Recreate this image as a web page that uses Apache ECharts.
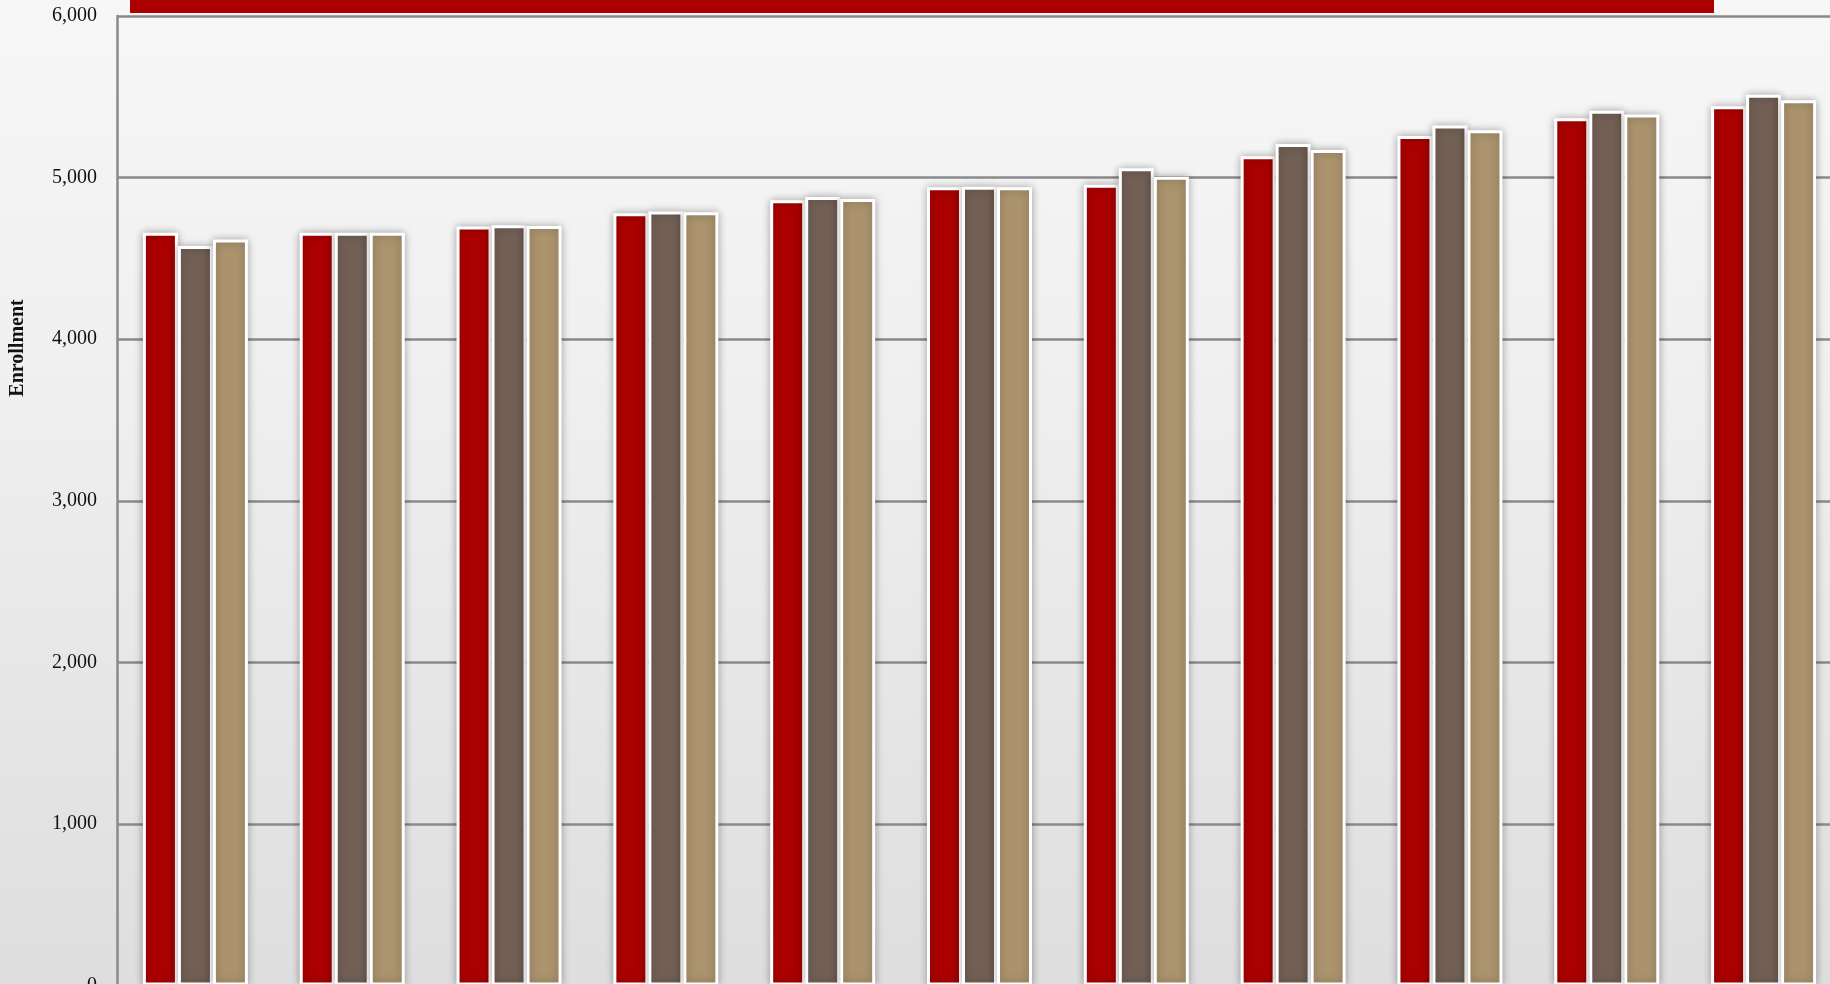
<!DOCTYPE html>
<html>
<head>
<meta charset="utf-8">
<script src="https://cdn.jsdelivr.net/npm/echarts@6/dist/echarts.min.js"></script>
<style>
  html, body { margin: 0; padding: 0; overflow: hidden; width: 1830px; height: 984px; }
  body { background: linear-gradient(to bottom, #f7f7f7 0%, #efefef 40%, #dedede 100%); }
  #chart { width: 1860px; height: 1060px; }
</style>
</head>
<body>
<div id="chart"></div>
<script>
const categories = ['2014', '2015', '2016', '2017', '2018', '2019', '2020', '2021', '2022', '2023', '2024'];
const seriesNames = ['Series 1', 'Series 2', 'Series 3'];
const series1 = [4658, 4658, 4698, 4780, 4860, 4940, 4955, 5132, 5258, 5368, 5442];
const series2 = [4576, 4658, 4705, 4790, 4880, 4944, 5058, 5208, 5323, 5414, 5512];
const series3 = [4617, 4658, 4700, 4786, 4868, 4940, 5006, 5171, 5293, 5391, 5478];
const yTicks = { min: 0, max: 6000, interval: 1000 };
const colors = ['#AA0000', '#726055', '#AB936E'];

const chart = echarts.init(document.getElementById('chart'), null, { renderer: 'canvas' });

const barStyle = (c) => ({
  color: c,
  borderColor: '#ffffff',
  borderWidth: 3,
  shadowBlur: 8,
  shadowColor: 'rgba(0,0,0,0.3)'
});

chart.setOption({
  backgroundColor: 'transparent',
  animation: false,
  grid: { left: 117, right: 18, top: 16, bottom: 74.4, containLabel: false },
  graphic: [
    { type: 'rect', left: 130, top: 0, shape: { width: 1584, height: 13 }, style: { fill: '#AA0000' }, z: 10 },
    { type: 'text', x: 18, y: 348, rotation: Math.PI / 2,
      style: { text: 'Enrollment', font: 'bold 20px "Liberation Serif", "Times New Roman", serif', fill: '#111', align: 'center', verticalAlign: 'middle' } }
  ],
  xAxis: {
    type: 'category',
    data: categories,
    axisLine: { show: true, lineStyle: { color: '#8a8a8a', width: 2.5 } },
    axisTick: { show: false },
    axisLabel: { fontFamily: 'Liberation Serif', fontSize: 20, color: '#111' }
  },
  yAxis: {
    type: 'value',
    min: yTicks.min,
    max: yTicks.max,
    interval: yTicks.interval,
    axisLine: { show: true, lineStyle: { color: '#8a8a8a', width: 2.5 } },
    axisTick: { show: false },
    splitLine: { show: true, lineStyle: { color: '#8a8a8a', width: 2.5 } },
    axisLabel: {
      margin: 20,
      fontFamily: 'Liberation Serif',
      fontSize: 20,
      color: '#111',
      formatter: (v) => v.toLocaleString('en-US')
    }
  },
  series: [
    { name: seriesNames[0], type: 'bar', data: series1, barWidth: 35, barGap: '0%', itemStyle: barStyle(colors[0]) },
    { name: seriesNames[1], type: 'bar', data: series2, barWidth: 35, barGap: '0%', itemStyle: barStyle(colors[1]) },
    { name: seriesNames[2], type: 'bar', data: series3, barWidth: 35, barGap: '0%', itemStyle: barStyle(colors[2]) }
  ]
});
</script>
</body>
</html>
